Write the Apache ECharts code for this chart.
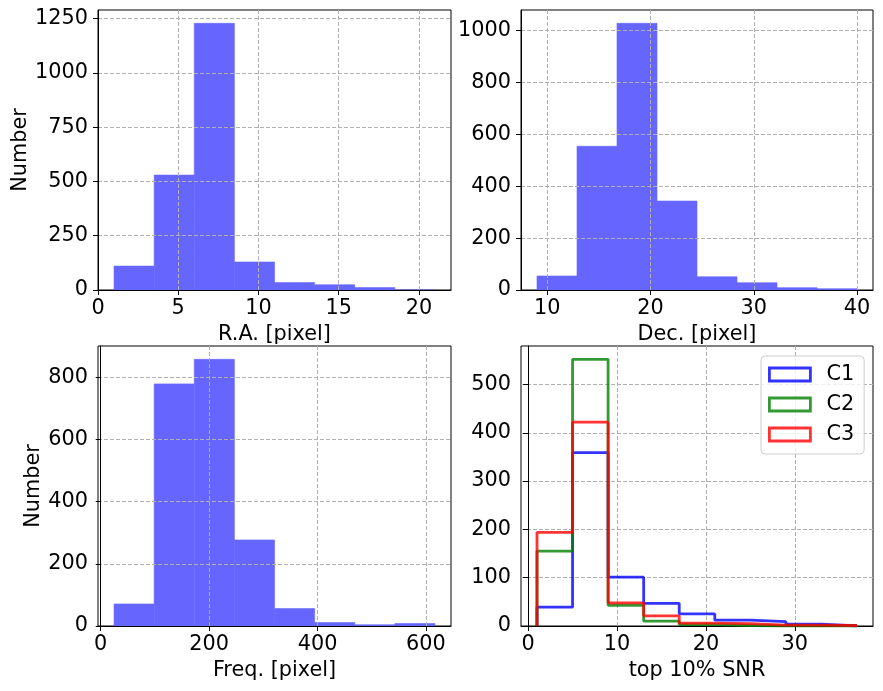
<!DOCTYPE html>
<html>
<head>
<meta charset="utf-8">
<script src="https://cdn.jsdelivr.net/npm/echarts@6/dist/echarts.min.js"></script>
<style>
  html, body { margin: 0; padding: 0; background: #fff; }
  #main { width: 883px; height: 691px; }
</style>
</head>
<body>
<div id="main"></div>
<script>
// histogram bins
const raEdges = [1, 3.5, 6, 8.5, 11, 13.5, 16, 18.5, 21];
const raCounts = [110, 529, 1228, 129, 34, 24, 11, 0];

const decEdges = [9, 12.875, 16.75, 20.625, 24.5, 28.375, 32.25, 36.125, 40];
const decCounts = [54, 554, 1028, 343, 51, 28, 9, 5];

const freqEdges = [24.6, 98.6, 172.6, 246.6, 320.6, 394.6, 468.6, 542.6, 616.6];
const freqCounts = [71, 779, 858, 277, 56, 11, 4, 8];

const snrEdges = [1, 5, 9, 13, 17, 21, 25, 29, 33, 37];
const snrC1 = [39, 359, 101, 47, 25, 12, 9, 4, 0];
const snrC2 = [155, 552, 43, 10, 3, 1, 0, 0, 0];
const snrC3 = [194, 422, 48, 21, 6, 5, 2, 2, 1];

// tick labels
const raXTicks = [0, 5, 10, 15, 20];
const raYTicks = [0, 250, 500, 750, 1000, 1250];
const decXTicks = [10, 20, 30, 40];
const decYTicks = [0, 200, 400, 600, 800, 1000];
const freqXTicks = [0, 200, 400, 600];
const freqYTicks = [0, 200, 400, 600, 800];
const snrXTicks = [0, 10, 20, 30];
const snrYTicks = [0, 100, 200, 300, 400, 500];

const FONT = 'DejaVu Sans';
const FS = 20.8;

var myChart = echarts.init(document.getElementById('main'));

// matplotlib style 5% margins
function xRange(edges) {
    const lo = edges[0], hi = edges[edges.length - 1];
    const pad = (hi - lo) * 0.05;
    return [lo - pad, hi + pad];
}
function yMax(...lists) {
    return Math.max(...lists.flat()) * 1.05;
}

function xAxisCfg(idx, edges, ticks, name) {
    const r = xRange(edges);
    return {
        type: 'value', gridIndex: idx, min: r[0], max: r[1],
        name: name, nameLocation: 'middle', nameGap: 34,
        nameTextStyle: { fontSize: FS, color: '#000', fontFamily: FONT },
        axisLine: { onZero: false, lineStyle: { color: '#000', width: 1 } },
        axisTick: { show: true, length: 5, customValues: ticks, lineStyle: { color: '#000', width: 1 } },
        axisLabel: { customValues: ticks, fontSize: FS, color: '#000', fontFamily: FONT, margin: 8,
                     formatter: v => String(v) },
        splitLine: { show: true, lineStyle: { color: '#b0b0b0', width: 1, type: [4, 2] } },
        z: 3
    };
}

function yAxisCfg(idx, max, ticks, name, gap) {
    return {
        type: 'value', gridIndex: idx, min: 0, max: max,
        name: name, nameLocation: 'middle', nameGap: gap || 0,
        nameTextStyle: { fontSize: FS, color: '#000', fontFamily: FONT },
        axisLine: { show: true, lineStyle: { color: '#000', width: 1 } },
        axisTick: { show: true, length: 5, customValues: ticks, lineStyle: { color: '#000', width: 1 } },
        axisLabel: { customValues: ticks, fontSize: FS, color: '#000', fontFamily: FONT, margin: 10,
                     formatter: v => String(v) },
        splitLine: { show: true, lineStyle: { color: '#b0b0b0', width: 1, type: [4, 2] } },
        z: 3
    };
}

function barSeries(idx, edges, counts) {
    return {
        type: 'custom', xAxisIndex: idx, yAxisIndex: idx,
        data: counts.map((c, i) => [edges[i], edges[i + 1], c]),
        encode: { x: [0, 1], y: 2 },
        renderItem: function (params, api) {
            const p0 = api.coord([api.value(0), api.value(2)]);
            const p1 = api.coord([api.value(1), 0]);
            return {
                type: 'rect',
                shape: { x: p0[0], y: p0[1], width: p1[0] - p0[0], height: p1[1] - p0[1] },
                style: { fill: '#6666ff', stroke: '#6666ff', lineWidth: 0.6 }
            };
        }
    };
}

function stepSeries(name, edges, counts, color) {
    const pts = [[edges[0], 0]];
    counts.forEach((c, i) => {
        pts.push([edges[i], c]);
        pts.push([edges[i + 1], c]);
    });
    pts.push([edges[edges.length - 1], 0]);
    return {
        name: name, type: 'line', xAxisIndex: 3, yAxisIndex: 3,
        data: pts, showSymbol: false, symbol: 'none', animation: false,
        lineStyle: { color: color, width: 2.8 },
        itemStyle: { color: color }
    };
}

const blueC = 'rgba(0,0,255,0.8)';
const greenC = 'rgba(0,128,0,0.8)';
const redC = 'rgba(255,0,0,0.8)';

const gridBox = { show: true, borderColor: '#000', borderWidth: 1, backgroundColor: 'transparent' };

option = {
    animation: false,
    textStyle: { fontFamily: FONT },
    grid: [
        Object.assign({ left: 98, top: 10, width: 353, height: 280 }, gridBox),
        Object.assign({ left: 521, top: 10, width: 352, height: 280 }, gridBox),
        Object.assign({ left: 98, top: 346, width: 353, height: 280 }, gridBox),
        Object.assign({ left: 521, top: 346, width: 352, height: 280 }, gridBox)
    ],
    xAxis: [
        xAxisCfg(0, raEdges, raXTicks, 'R.A. [pixel]'),
        xAxisCfg(1, decEdges, decXTicks, 'Dec. [pixel]'),
        xAxisCfg(2, freqEdges, freqXTicks, 'Freq. [pixel]'),
        xAxisCfg(3, snrEdges, snrXTicks, 'top 10% SNR')
    ],
    yAxis: [
        yAxisCfg(0, yMax(raCounts), raYTicks, 'Number', 66),
        yAxisCfg(1, yMax(decCounts), decYTicks, ''),
        yAxisCfg(2, yMax(freqCounts), freqYTicks, 'Number', 54),
        yAxisCfg(3, yMax(snrC1, snrC2, snrC3), snrYTicks, '')
    ],
    legend: {
        orient: 'vertical', left: 761, top: 356,
        padding: [8, 10, 9, 7],
        itemWidth: 41, itemHeight: 13, itemGap: 9,
        backgroundColor: 'rgba(255,255,255,0.8)',
        borderColor: '#cccccc', borderWidth: 1, borderRadius: 4,
        textStyle: { fontSize: FS, color: '#000', fontFamily: FONT, padding: [0, 0, 0, 11] },
        data: [
            { name: 'C1', icon: 'rect', itemStyle: { color: 'transparent', borderColor: blueC, borderWidth: 2.8 } },
            { name: 'C2', icon: 'rect', itemStyle: { color: 'transparent', borderColor: greenC, borderWidth: 2.8 } },
            { name: 'C3', icon: 'rect', itemStyle: { color: 'transparent', borderColor: redC, borderWidth: 2.8 } }
        ]
    },
    series: [
        barSeries(0, raEdges, raCounts),
        barSeries(1, decEdges, decCounts),
        barSeries(2, freqEdges, freqCounts),
        stepSeries('C1', snrEdges, snrC1, blueC),
        stepSeries('C2', snrEdges, snrC2, greenC),
        stepSeries('C3', snrEdges, snrC3, redC)
    ]
};

myChart.setOption(option);
</script>
</body>
</html>
